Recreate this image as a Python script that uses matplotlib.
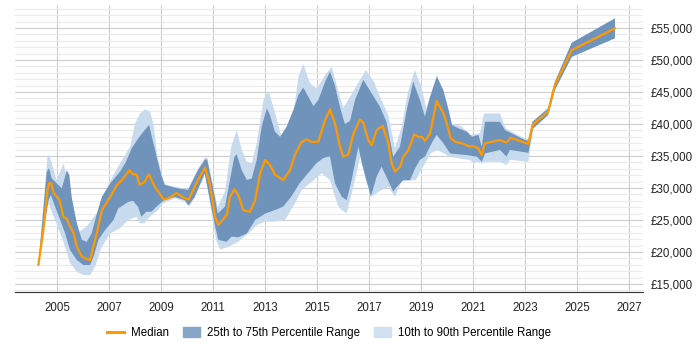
import numpy as np
import matplotlib
matplotlib.use("Agg")
from matplotlib import pyplot as plt
from matplotlib.ticker import MultipleLocator, FuncFormatter
from matplotlib.patches import Patch
from matplotlib.lines import Line2D

plt.rcParams['font.family'] = ['Liberation Sans', 'DejaVu Sans']

# Median salary
med_years = [2004.28, 2004.47, 2004.63, 2004.70, 2004.78, 2004.86, 2005.09, 2005.24, 2005.37,
             2005.50, 2005.63, 2005.76, 2005.95, 2006.14, 2006.27, 2006.33, 2006.53, 2006.72,
             2007.04, 2007.29, 2007.55, 2007.78, 2007.90, 2008.06, 2008.17, 2008.35, 2008.53,
             2008.76, 2009.10, 2009.28, 2009.59, 2009.91, 2010.06, 2010.42, 2010.69, 2010.88,
             2011.08, 2011.20, 2011.53, 2011.65, 2011.82, 2011.97, 2012.17, 2012.42, 2012.62,
             2012.81, 2013.00, 2013.19, 2013.38, 2013.70, 2013.96, 2014.15, 2014.41, 2014.60,
             2014.80, 2015.05, 2015.31, 2015.50, 2015.69, 2015.88, 2016.01, 2016.20, 2016.40,
             2016.65, 2016.78, 2016.97, 2017.10, 2017.30, 2017.53, 2017.74, 2017.87, 2018.00,
             2018.19, 2018.32, 2018.51, 2018.74, 2018.90, 2019.03, 2019.15, 2019.35, 2019.60,
             2019.86, 2019.99, 2020.14, 2020.31, 2020.63, 2020.88, 2021.00, 2021.20, 2021.33,
             2021.46, 2021.78, 2022.04, 2022.29, 2022.45, 2023.13, 2023.29, 2023.89, 2024.15,
             2024.80, 2026.46]
med_vals = [18000, 23400, 29700, 30800, 30700, 29300, 28100, 25500, 25200,
            24000, 23000, 20800, 19300, 18900, 18750, 19800, 23000, 26500,
            28600, 30400, 31500, 32800, 32200, 32100, 30500, 30900, 32150,
            30200, 28200, 28400, 29200, 28400, 28200, 31250, 33200, 30500,
            25500, 24200, 25800, 28600, 29800, 28900, 26500, 26300, 28100,
            32300, 34400, 33600, 32100, 31250, 32800, 35200, 37200, 37600,
            37200, 37250, 40600, 42300, 40100, 36500, 34900, 35200, 38500,
            40700, 40200, 37500, 36700, 39100, 39700, 37000, 33850, 32550,
            33300, 34900, 35900, 38400, 38000, 38000, 37350, 38500, 43600,
            41700, 40100, 37800, 37250, 36900, 36450, 36550, 36200, 35150,
            37000, 37250, 37500, 37100, 37850, 36900, 39850, 41950, 46100,
            51550, 54950]

# 75th percentile
p75_years = [2004.28, 2004.60, 2004.69, 2004.79, 2005.18, 2005.31, 2005.37, 2005.47, 2005.56,
             2005.76, 2005.95, 2006.14, 2006.33, 2006.53, 2006.72, 2007.04, 2007.42, 2007.62,
             2007.87, 2008.12, 2008.37, 2008.54, 2008.69, 2008.86, 2009.01, 2009.14, 2009.40,
             2009.65, 2010.04, 2010.42, 2010.68, 2010.77, 2010.99, 2011.18, 2011.46, 2011.65,
             2011.82, 2011.91, 2012.10, 2012.30, 2012.49, 2012.68, 2012.87, 2013.07, 2013.19,
             2013.38, 2013.58, 2013.83, 2014.09, 2014.28, 2014.47, 2014.66, 2014.86, 2015.05,
             2015.31, 2015.50, 2015.69, 2015.88, 2016.07, 2016.27, 2016.46, 2016.78, 2017.10,
             2017.42, 2017.67, 2017.93, 2018.19, 2018.45, 2018.70, 2018.96, 2019.15, 2019.35,
             2019.61, 2019.86, 2020.06, 2020.19, 2020.45, 2020.77, 2020.96, 2021.21, 2021.34,
             2021.46, 2021.70, 2022.04, 2022.23, 2023.00, 2023.13, 2023.29, 2023.89, 2024.15,
             2024.80, 2026.46]
p75_vals = [18000, 32500, 33100, 31500, 29950, 31800, 32800, 32000, 28600,
            24500, 21900, 21600, 22900, 26000, 28600, 30700, 32550, 33850,
            36200, 37750, 39050, 39850, 37250, 34400, 32000, 30500, 30200,
            29950, 29700, 32800, 34400, 34500, 30200, 26000, 27100, 31250,
            34900, 35250, 32800, 31250, 31500, 34400, 39600, 42450, 41400,
            38800, 38000, 39600, 42200, 44500, 45700, 44300, 42800, 43750,
            46600, 48200, 46000, 42700, 40000, 40500, 43750, 46900, 44800,
            42700, 40350, 34900, 36450, 42200, 46600, 43750, 41150, 44250,
            47400, 45300, 42200, 39850, 39300, 38800, 38000, 38300, 36450,
            40350, 40350, 40350, 39050, 37500, 37400, 40350, 42450, 46600,
            52700, 56500]

# 25th percentile
p25_years = [2004.28, 2004.45, 2004.67, 2004.76, 2004.92, 2005.12, 2005.31, 2005.50, 2005.76,
             2006.01, 2006.27, 2006.40, 2006.59, 2006.85, 2007.17, 2007.35, 2007.73, 2007.92,
             2008.11, 2008.24, 2008.43, 2008.63, 2008.88, 2009.12, 2009.53, 2009.91, 2010.06,
             2010.29, 2010.68, 2010.83, 2011.08, 2011.20, 2011.52, 2011.71, 2011.97, 2012.30,
             2012.62, 2013.00, 2013.38, 2013.70, 2014.01, 2014.33, 2014.65, 2014.97, 2015.23,
             2015.42, 2015.50, 2015.69, 2015.95, 2016.14, 2016.33, 2016.59, 2016.72, 2016.97,
             2017.07, 2017.29, 2017.48, 2017.67, 2017.93, 2018.13, 2018.32, 2018.58, 2018.77,
             2018.96, 2019.15, 2019.41, 2019.60, 2019.86, 2020.12, 2020.37, 2020.76, 2021.15,
             2021.34, 2021.46, 2022.04, 2022.29, 2022.42, 2023.13, 2023.31, 2023.89, 2024.15,
             2024.80, 2026.46]
p25_vals = [18000, 23000, 28100, 28900, 27100, 25000, 22900, 20300, 18750,
            17970, 17970, 19270, 21900, 23450, 25000, 26800, 27800, 28000,
            27100, 25500, 26300, 26300, 27300, 28100, 28600, 28100, 27300,
            28600, 32300, 29200, 24000, 21900, 21600, 22400, 22300, 22900,
            25000, 26000, 26550, 27100, 28650, 30750, 32300, 33850, 34650,
            34900, 34900, 30700, 28650, 28100, 31250, 36450, 34000, 30200,
            28650, 31750, 33350, 31750, 29450, 30450, 31250, 31250, 33050,
            34400, 34900, 37000, 38300, 37000, 35400, 35300, 35150, 34900,
            34100, 35400, 35950, 34900, 35950, 35500, 39300, 41400, 45300,
            50500, 53400]

# 90th percentile
p90_years = [2004.28, 2004.63, 2004.70, 2004.98, 2005.25, 2005.44, 2005.63, 2005.76, 2006.14,
             2006.53, 2006.79, 2007.00, 2007.42, 2007.81, 2008.00, 2008.19, 2008.38, 2008.58,
             2008.70, 2008.86, 2009.05, 2009.14, 2009.40, 2009.65, 2010.04, 2010.42, 2010.68,
             2010.77, 2010.99, 2011.18, 2011.46, 2011.70, 2011.91, 2012.10, 2012.30, 2012.49,
             2012.68, 2012.94, 2013.13, 2013.32, 2013.58, 2013.77, 2014.02, 2014.28, 2014.47,
             2014.73, 2014.99, 2015.31, 2015.57, 2015.82, 2016.01, 2016.20, 2016.46, 2016.88,
             2017.20, 2017.42, 2017.74, 2018.00, 2018.26, 2018.50, 2018.76, 2019.01, 2019.20,
             2019.61, 2019.90, 2020.19, 2020.57, 2020.88, 2021.27, 2021.42, 2022.04, 2022.26,
             2023.00, 2023.13, 2023.29, 2023.89, 2024.15, 2024.80, 2026.46]
p90_vals = [18000, 35000, 35150, 31250, 33850, 30200, 25500, 22900, 24000,
            26100, 28600, 30800, 33850, 36450, 40100, 41650, 42300, 41900,
            40100, 34900, 31800, 30600, 30300, 30100, 29800, 33000, 34700,
            34800, 30500, 27000, 29500, 36500, 39050, 36000, 34100, 33850,
            37000, 43750, 45200, 42700, 38800, 37000, 39050, 47400, 49400,
            46350, 45550, 47650, 48950, 45000, 42500, 43750, 45550, 48450,
            46500, 44250, 41400, 36200, 39600, 45000, 48450, 45850, 42450,
            47650, 44500, 40100, 39600, 38300, 38550, 41650, 41650, 39300,
            37700, 37600, 40350, 42450, 46600, 52700, 56500]

# 10th percentile
p10_years = [2004.28, 2004.45, 2004.67, 2005.22, 2005.50, 2005.76, 2006.01, 2006.27, 2006.46,
             2006.72, 2007.04, 2007.42, 2007.73, 2008.05, 2008.18, 2008.37, 2008.56, 2008.88,
             2009.07, 2009.30, 2009.53, 2009.91, 2010.06, 2010.29, 2010.68, 2010.83, 2011.12,
             2011.27, 2011.59, 2011.97, 2012.36, 2012.68, 2013.00, 2013.38, 2013.77, 2014.15,
             2014.41, 2014.80, 2015.18, 2015.50, 2015.69, 2015.82, 2015.95, 2016.14, 2016.40,
             2016.66, 2016.85, 2017.10, 2017.40, 2017.74, 2018.00, 2018.25, 2018.80, 2019.12,
             2019.37, 2019.63, 2019.89, 2020.08, 2020.50, 2020.88, 2021.02, 2021.15, 2021.34,
             2021.46, 2022.04, 2022.29, 2022.42, 2023.13, 2023.31, 2023.89, 2024.15, 2024.80,
             2026.46]
p10_vals = [18000, 22000, 27600, 21900, 18300, 16900, 16400, 16400, 17700,
            20800, 22900, 23700, 25000, 25500, 24500, 24500, 25500, 26550,
            27600, 28000, 28400, 27900, 27100, 28400, 32000, 28800, 21900,
            20400, 20800, 21600, 22900, 24200, 24750, 24750, 25000, 27600,
            29700, 31000, 32300, 31250, 28650, 27100, 26550, 26050, 30200,
            34900, 31500, 28650, 29500, 30200, 28650, 31000, 31250, 33600,
            35400, 35950, 35400, 34900, 34600, 34400, 33850, 34100, 33850,
            34100, 34100, 33600, 34400, 34100, 39300, 41400, 45300, 50500,
            53400]

x_ticks = list(range(2005, 2028, 2))

dark = '#6f93bb'
light = '#c8daed'
orange = '#ff9900'

fig = plt.figure(figsize=(7, 3.5), dpi=100)
ax = fig.add_axes([15 / 700, 58 / 350, 628 / 700, 287 / 350])

ax.fill(np.concatenate([p90_years, p10_years[::-1]]),
        np.concatenate([p90_vals, p10_vals[::-1]]), color=light, lw=0, zorder=2)
ax.fill(np.concatenate([p75_years, p25_years[::-1]]),
        np.concatenate([p75_vals, p25_vals[::-1]]), color=dark, lw=0, zorder=3)
ax.plot(med_years, med_vals, color=orange, lw=1.6, zorder=4)

ax.set_xlim(2003.38, 2027.54)
ax.set_ylim(13750, 58600)
ax.set_xticks(x_ticks)
ax.yaxis.set_major_locator(MultipleLocator(5000))
ax.yaxis.set_minor_locator(MultipleLocator(1000))
ax.yaxis.set_major_formatter(FuncFormatter(lambda v, p: '£{:,.0f}'.format(v)))
ax.yaxis.tick_right()
ax.tick_params(axis='y', which='both', length=0, pad=5.5, labelsize=8.3, colors='#222222')
ax.tick_params(axis='x', length=0, pad=7, labelsize=8.3, colors='#222222')

ax.grid(axis='y', which='major', color='#cccccc', lw=0.8, zorder=0)
ax.grid(axis='y', which='minor', color='#ebebeb', lw=0.8, zorder=0)
ax.grid(axis='x', which='major', color='#cccccc', lw=0.8, zorder=0)
ax.set_axisbelow(True)

for s in ['left', 'right', 'top']:
    ax.spines[s].set_visible(False)
ax.spines['bottom'].set_color('#333333')

handles = [Line2D([], [], color=orange, lw=2.2),
           Patch(color='#87a5c7'),
           Patch(color='#d0e0f0')]
labels = ['Median', '25th to 75th Percentile Range', '10th to 90th Percentile Range']
fig.legend(handles, labels, loc='center', bbox_to_anchor=(329 / 700, 1 - 333 / 350),
           ncol=3, frameon=False, fontsize=8.3, handlelength=1.5, handleheight=0.9,
           columnspacing=1.2, handletextpad=0.6)

fig.savefig('out.png', dpi=100)
